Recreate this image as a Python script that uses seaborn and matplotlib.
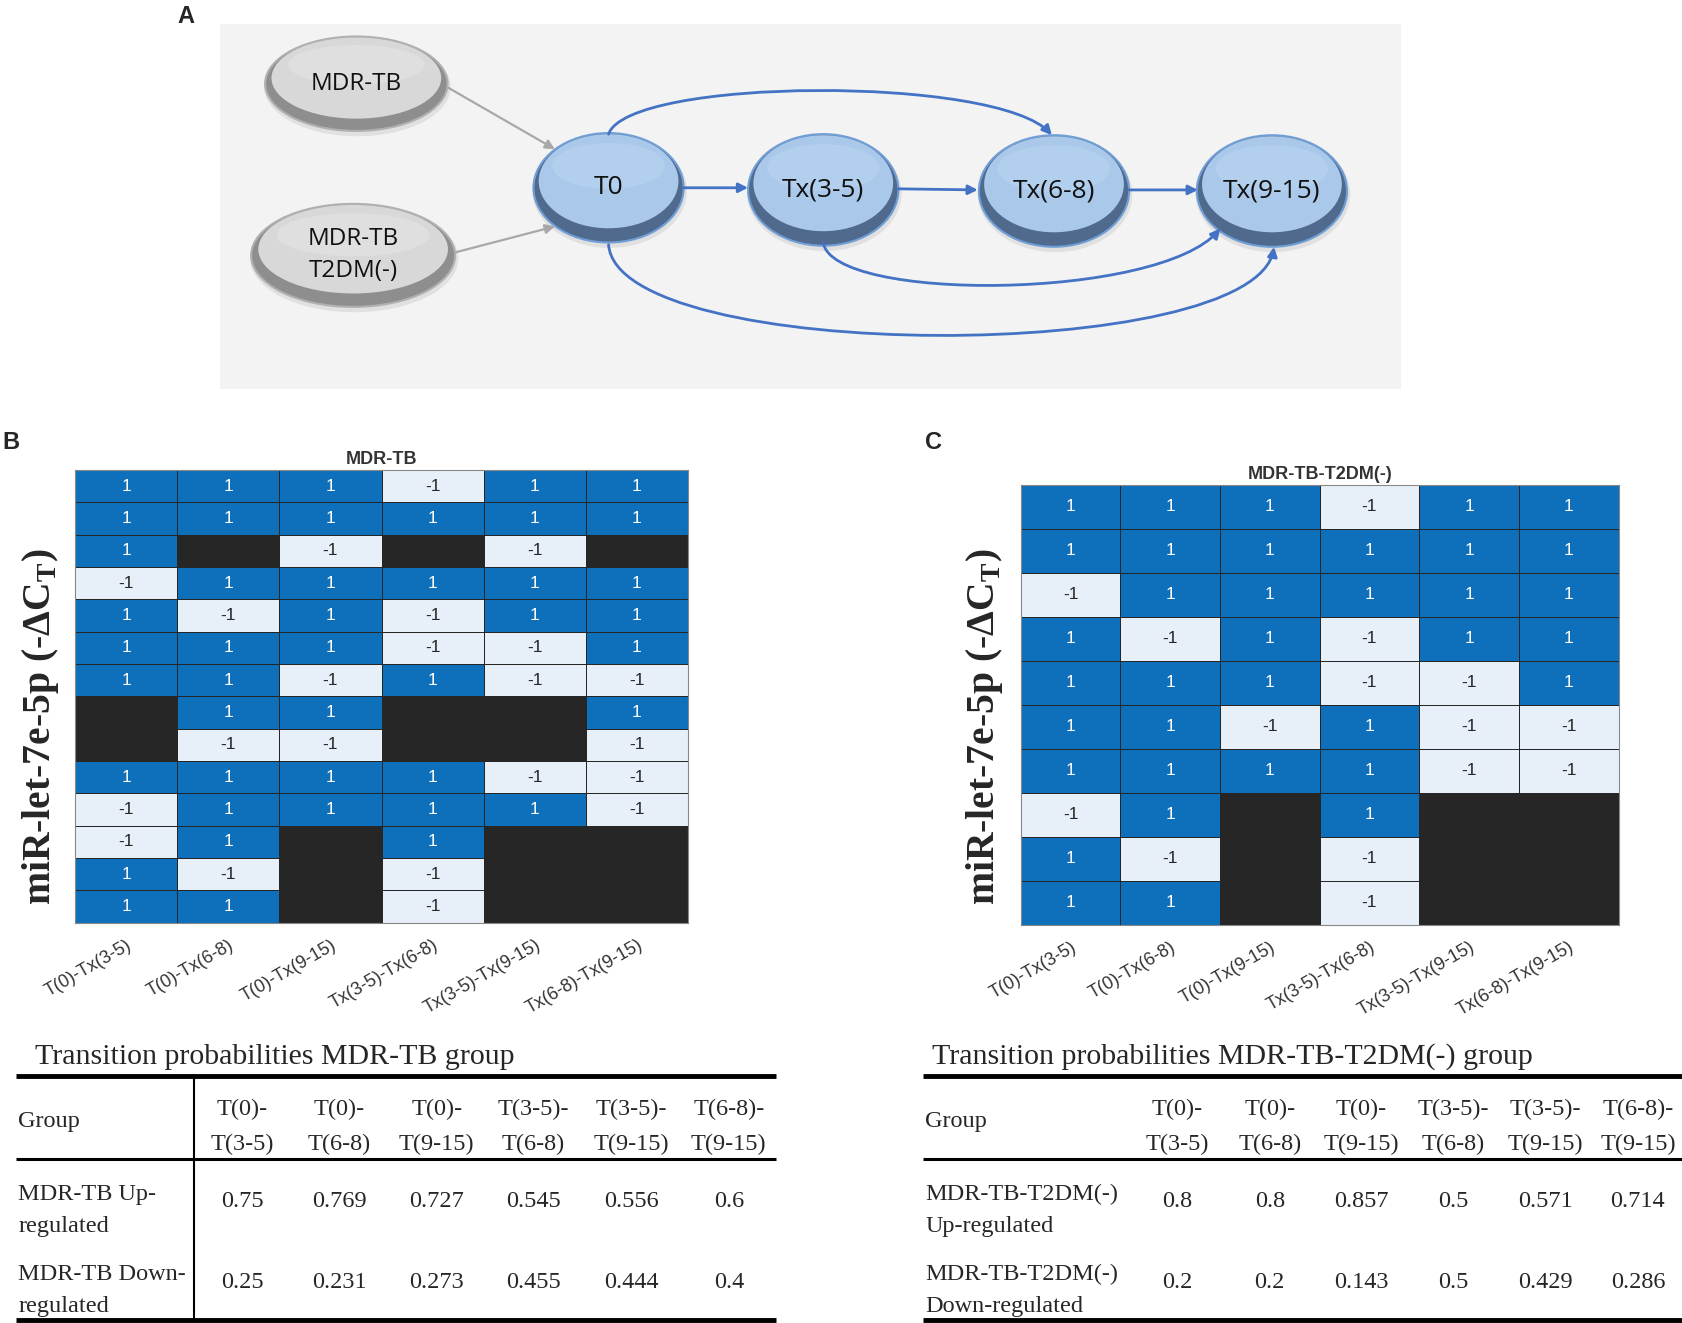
import numpy as np
import pandas as pd
import matplotlib
matplotlib.use("Agg")
import matplotlib.pyplot as plt
import seaborn as sns
from matplotlib.patches import Ellipse, FancyArrowPatch, Rectangle
from matplotlib.path import Path
from matplotlib.colors import ListedColormap

# ---------------- data ----------------
transitions = ["T(0)-Tx(3-5)", "T(0)-Tx(6-8)", "T(0)-Tx(9-15)",
               "Tx(3-5)-Tx(6-8)", "Tx(3-5)-Tx(9-15)", "Tx(6-8)-Tx(9-15)"]
N = np.nan
mdr_tb = [
    [1, 1, 1, -1, 1, 1],
    [1, 1, 1, 1, 1, 1],
    [1, N, -1, N, -1, N],
    [-1, 1, 1, 1, 1, 1],
    [1, -1, 1, -1, 1, 1],
    [1, 1, 1, -1, -1, 1],
    [1, 1, -1, 1, -1, -1],
    [N, 1, 1, N, N, 1],
    [N, -1, -1, N, N, -1],
    [1, 1, 1, 1, -1, -1],
    [-1, 1, 1, 1, 1, -1],
    [-1, 1, N, 1, N, N],
    [1, -1, N, -1, N, N],
    [1, 1, N, -1, N, N],
]
mdr_tb_t2dm = [
    [1, 1, 1, -1, 1, 1],
    [1, 1, 1, 1, 1, 1],
    [-1, 1, 1, 1, 1, 1],
    [1, -1, 1, -1, 1, 1],
    [1, 1, 1, -1, -1, 1],
    [1, 1, -1, 1, -1, -1],
    [1, 1, 1, 1, -1, -1],
    [-1, 1, N, 1, N, N],
    [1, -1, N, -1, N, N],
    [1, 1, N, -1, N, N],
]
table_headers = ["T(0)-\nT(3-5)", "T(0)-\nT(6-8)", "T(0)-\nT(9-15)",
                 "T(3-5)-\nT(6-8)", "T(3-5)-\nT(9-15)", "T(6-8)-\nT(9-15)"]
b_up = [0.75, 0.769, 0.727, 0.545, 0.556, 0.6]
b_down = [0.25, 0.231, 0.273, 0.455, 0.444, 0.4]
c_up = [0.8, 0.8, 0.857, 0.5, 0.571, 0.714]
c_down = [0.2, 0.2, 0.143, 0.5, 0.429, 0.286]
b_rows = ["MDR-TB Up-\nregulated", "MDR-TB Down-\nregulated"]
c_rows = ["MDR-TB-T2DM(-)\nUp-regulated", "MDR-TB-T2DM(-)\nDown-regulated"]
groups = ["MDR-TB", "MDR-TB\nT2DM(-)"]
states = ["T0", "Tx(3-5)", "Tx(6-8)", "Tx(9-15)"]

# ---------------- figure ----------------
sns.set_theme(style="white")
plt.rcParams["font.family"] = ["Liberation Sans", "DejaVu Sans"]
W, H = 1568, 1233
fig = plt.figure(figsize=(16.83, 13.23), dpi=100)

ax0 = fig.add_axes([0, 0, 1, 1])
ax0.set_xlim(0, W)
ax0.set_ylim(H, 0)
ax0.axis("off")
ax0.patch.set_alpha(0)

def fx(x):
    return x / W

def fy(y):
    return 1 - y / H

# ---------------- panel A ----------------
ax0.add_patch(Rectangle((205, 22), 1100, 341, fc="#f3f3f3", ec="none", zorder=0))
ax0.text(173, 15, "A", fontsize=17, fontweight="bold", ha="center", va="center")

def node(cx, cy, w, h, label, kind, fs):
    if kind == "gray":
        outer, inner, hi, edge = "#8e8e8e", "#d8d8d8", "#e6e6e6", "#b0b0b0"
    else:
        outer, inner, hi, edge = "#4f6a8c", "#a9c8ea", "#bcd6f1", "#6f9fd6"
    ax0.add_patch(Ellipse((cx + 1, cy + 3), w + 4, h + 4, fc="#cfcfcf", ec="none", alpha=0.5, zorder=2))
    ax0.add_patch(Ellipse((cx, cy), w, h, fc=outer, ec=edge, lw=1.5, zorder=3))
    ax0.add_patch(Ellipse((cx, cy - 0.06 * h), w * 0.93, h * 0.86, fc=inner, ec="none", zorder=4))
    ax0.add_patch(Ellipse((cx, cy - 0.2 * h), w * 0.75, h * 0.42, fc=hi, ec="none", alpha=0.5, zorder=4))
    ax0.text(cx, cy, label, fontsize=fs, ha="center", va="center", zorder=5,
             family=["Open Sans", "DejaVu Sans"], color="#111111", linespacing=1.45)

group_pos = [(332, 78, 170, 88), (329, 238, 190, 96)]
for (cx, cy, w, h), lab in zip(group_pos, groups):
    node(cx, cy, w, h, lab, "gray", 17.5)

state_pos = [(567, 175, 140, 102), (767, 177, 140, 104), (982, 178, 140, 104), (1185, 178, 140, 104)]
for (cx, cy, w, h), lab in zip(state_pos, states):
    node(cx, cy, w, h, lab, "blue", 19)

def arrow(p1, p2, color, lw=2.0, ms=14):
    a = FancyArrowPatch(p1, p2, arrowstyle="-|>", mutation_scale=ms, color=color, lw=lw,
                        shrinkA=0, shrinkB=0, zorder=6)
    ax0.add_patch(a)

def curve(pts, color, lw=2.0, ms=14):
    path = Path(pts, [Path.MOVETO, Path.CURVE4, Path.CURVE4, Path.CURVE4])
    a = FancyArrowPatch(path=path, arrowstyle="-|>", mutation_scale=ms, color=color, lw=lw,
                        zorder=6)
    ax0.add_patch(a)

gray = "#a8a8a8"
blue = "#4472c4"
arrow((418, 82), (517, 139), gray, lw=1.6)
arrow((425, 235), (517, 211), gray, lw=1.6)
arrow((637, 175), (697, 175), blue)
arrow((837, 176), (911, 177), blue)
arrow((1052, 177), (1116, 177), blue)
curve([(567, 125), (585, 72), (930, 70), (980, 126)], blue)
curve([(767, 226), (775, 282), (1080, 280), (1137, 213)], blue)
curve([(567, 228), (575, 340), (1170, 340), (1187, 230)], blue)

# ---------------- heatmaps ----------------
cmap = ListedColormap(["#e7eff8", "#0e70ba"])

def draw_heat(data, rect, title):
    df = pd.DataFrame(data, columns=transitions)
    ax = fig.add_axes(rect)
    ax.set_facecolor("#262626")
    sns.heatmap(df, ax=ax, mask=df.isna(), cmap=cmap, vmin=-1, vmax=1, cbar=False,
                annot=True, fmt="g", linewidths=0.7, linecolor="#262626",
                annot_kws={"fontsize": 12.5, "family": "Liberation Sans"})
    ax.set_yticks([])
    ax.set_xticks(np.arange(len(transitions)) + 0.5)
    ax.set_xticklabels(transitions, rotation=30, ha="right", rotation_mode="anchor",
                       fontsize=13, color="#333333")
    ax.tick_params(axis="x", length=0, pad=10)
    ax.set_title(title, fontsize=13, fontweight="bold", color="#333333", pad=4)
    for s in ax.spines.values():
        s.set_visible(True)
        s.set_color("#888888")
        s.set_linewidth(0.8)
    return ax

draw_heat(mdr_tb, [fx(70), fy(860), fx(641) - fx(70), fy(438) - fy(860)], "MDR-TB")
draw_heat(mdr_tb_t2dm, [fx(951), fy(862), fx(1508) - fx(951), fy(452) - fy(862)], "MDR-TB-T2DM(-)")

ylab = "miR-let-7e-5p (-ΔC$_{\\mathregular{T}}$)"
for x in (38, 917):
    fig.text(fx(x), fy(677), ylab, rotation=90, ha="center", va="center",
             fontsize=28.5, fontweight="bold", family=["Liberation Serif", "DejaVu Serif"])

fig.text(fx(10), fy(412), "B", fontsize=17, fontweight="bold", ha="center", va="center")
fig.text(fx(870), fy(412), "C", fontsize=17, fontweight="bold", ha="center", va="center")

# ---------------- tables ----------------
serif = ["Liberation Serif", "DejaVu Serif"]
tfs = 17.5

def draw_table(x0, x1, title_x, title, group_x, col_x, rows, up, down, vline=None):
    ax0.text(title_x, 985, title, fontsize=21.5, family=serif, ha="left", va="center")
    ax0.plot([x0, x1], [1003, 1003], color="black", lw=3.5, solid_capstyle="butt")
    ax0.plot([x0, x1], [1080, 1080], color="black", lw=2.2, solid_capstyle="butt")
    ax0.plot([x0, x1], [1230, 1230], color="black", lw=3.5, solid_capstyle="butt")
    if vline is not None:
        ax0.plot([vline, vline], [1003, 1230], color="black", lw=1.5)
    ax0.text(group_x, 1045, "Group", fontsize=tfs, family=serif, ha="left", va="center")
    for cx, hd in zip(col_x, table_headers):
        l1, l2 = hd.split("\n")
        ax0.text(cx, 1034, l1, fontsize=tfs, family=serif, ha="center", va="center")
        ax0.text(cx, 1067, l2, fontsize=tfs, family=serif, ha="center", va="center")
    for ry, lab, vals in zip((1113, 1188), rows, (up, down)):
        l1, l2 = lab.split("\n")
        ax0.text(group_x, ry, l1, fontsize=tfs, family=serif, ha="left", va="center")
        ax0.text(group_x, ry + 30, l2, fontsize=tfs, family=serif, ha="left", va="center")
        for cx, v in zip(col_x, vals):
            ax0.text(cx, ry + 7, f"{v:g}", fontsize=tfs, family=serif, ha="center", va="center")

draw_table(15, 723, 33, "Transition probabilities MDR-TB group", 17,
           [226, 316, 407, 497, 588, 679], b_rows, b_up, b_down, vline=181)
draw_table(860, 1568, 868, "Transition probabilities MDR-TB-T2DM(-) group", 862,
           [1097, 1183, 1268, 1354, 1440, 1526], c_rows, c_up, c_down)

fig.savefig("out.png", dpi=100, facecolor="white")
